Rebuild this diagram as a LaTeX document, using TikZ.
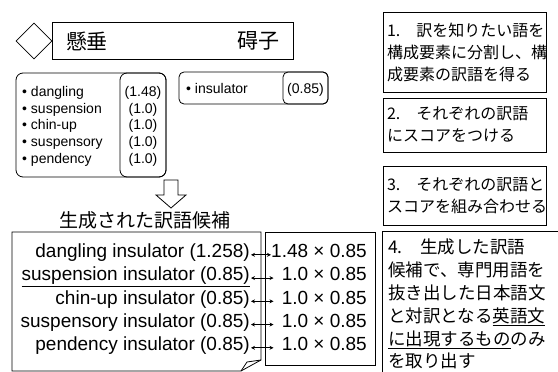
\documentclass[tikz,border=0pt]{standalone}
\usepackage{fontspec}
\setmainfont{Liberation Sans}
\newfontfamily\jp{Noto Sans CJK JP}
\usetikzlibrary{shapes.geometric,arrows.meta}
\begin{document}
\begin{tikzpicture}[x=1pt,y=-1pt,
  ln/.style={line width=0.8pt},
  stepbox/.style={draw, ln, font=\jp\fontsize{16}{22}\selectfont, align=left, text width=155pt, inner sep=4pt},
  lst/.style={font=\fontsize{14}{16}\selectfont, inner sep=0pt},
  big/.style={font=\fontsize{19}{23}\selectfont, inner sep=0pt, text height=0.75em, text depth=0.21em},
  dbl/.style={{Stealth[length=4pt,width=4pt]}-{Stealth[length=4pt,width=4pt]}, line width=0.7pt},
]
\useasboundingbox (0,0) rectangle (558,372);

% header
\node[diamond, draw, ln, minimum width=36pt, minimum height=36pt, inner sep=0pt] (dia) at (34,41) {};
\node[draw, ln, minimum width=241pt, minimum height=37pt, inner sep=0pt] (hdr) at (172.5,40.5) {};
\node[font=\jp\fontsize{21}{21}\selectfont, inner sep=0pt] (h1) at (87,41) {懸垂};
\node[font=\jp\fontsize{21}{21}\selectfont, inner sep=0pt] (h2) at (258,41) {碍子};

% list box
\node[draw, ln, rounded corners=7pt, minimum width=150pt, minimum height=104pt, inner sep=0pt] (lbox) at (91,125) {};
\node[draw, ln, rounded corners=7pt, minimum width=46pt, minimum height=104pt, inner sep=0pt] (lsc) at (143,125) {};
\foreach \w/\s [count=\i] in {dangling/{(1.48)}, suspension/{(1.0)}, chin-up/{(1.0)}, suspensory/{(1.0)}, pendency/{(1.0)}} {
  \node[lst, anchor=base west] (w\i) at (22, 79.7+16.7*\i) {• \w};
  \node[lst, anchor=base] (s\i) at (143, 79.7+16.7*\i) {\s};
}

% insulator box
\node[draw, ln, rounded corners=5pt, minimum width=149pt, minimum height=32pt, inner sep=0pt] (ibox) at (253.5,88) {};
\node[draw, ln, rounded corners=5pt, minimum width=45pt, minimum height=32pt, inner sep=0pt] (isc) at (305.5,88) {};
\node[lst, anchor=base west] (iw) at (186,93) {• insulator};
\node[lst, anchor=base] (is) at (305.5,93) {(0.85)};

% hollow arrow
\draw[ln] (164,180) -- (178,180) -- (178,195) -- (186,195) -- (171,208) -- (156,195) -- (164,195) -- cycle;

% title
\node[font=\jp\fontsize{19}{19}\selectfont, inner sep=0pt] (ttl) at (145,220) {生成された訳語候補};

% candidate box with folded corner
\draw[ln] (241,371) -- (12,371) -- (12,232) -- (261,232) -- (261,360) -- cycle;
\draw[ln] (241,371) -- (247,362) -- (261,360);

% product box
\node[draw, ln, minimum width=110pt, minimum height=133pt, inner sep=0pt] (pbox) at (320,298.5) {};

\node[big, anchor=base east] (c1) at (250,257.5) {dangling insulator (1.258)};
\node[big, anchor=base east] (c2) at (250,280.75) {\underline{suspension insulator (0.85)}};
\node[big, anchor=base east] (c3) at (250,304) {chin-up insulator (0.85)};
\node[big, anchor=base east] (c4) at (250,327.25) {suspensory insulator (0.85)};
\node[big, anchor=base east] (c5) at (250,350.5) {pendency insulator (0.85)};

\node[big, anchor=base east] (p1) at (367,257.5) {1.48 × 0.85};
\node[big, anchor=base east] (p2) at (367,280.75) {1.0 × 0.85};
\node[big, anchor=base east] (p3) at (367,304) {1.0 × 0.85};
\node[big, anchor=base east] (p4) at (367,327.25) {1.0 × 0.85};
\node[big, anchor=base east] (p5) at (367,350.5) {1.0 × 0.85};

\draw[dbl, shorten <=1pt] (c1.east) -- (p1.west);
\foreach \i in {2,...,5} {
  \draw[dbl, shorten <=1pt, shorten >=8pt] (c\i.east) -- (p\i.west);
}

% step boxes
\node[stepbox, minimum height=80pt] (b1) at (464.5,52) {1.　訳を知りたい語を\\構成要素に分割し、構\\成要素の訳語を得る};
\node[stepbox, minimum height=54pt] (b2) at (464.5,125) {2.　それぞれの訳語\\にスコアをつける};
\node[stepbox, minimum height=59pt] (b3) at (464.5,195.5) {3.　それぞれの訳語と\\スコアを組み合わせる};

% step 4 (clipped box)
\draw[ln] (382,373) -- (382,231) -- (559,231);
\node[font=\jp\fontsize{17.5}{22.9}\selectfont, align=left, anchor=north west, inner sep=0pt] (b4) at (388,238.5) {4.　生成した訳語\\候補で、専門用語を\\抜き出した日本語文\\と対訳となる\underline{英語文}\\\underline{に出現するもの}のみ\\を取り出す};
\end{tikzpicture}
\end{document}
